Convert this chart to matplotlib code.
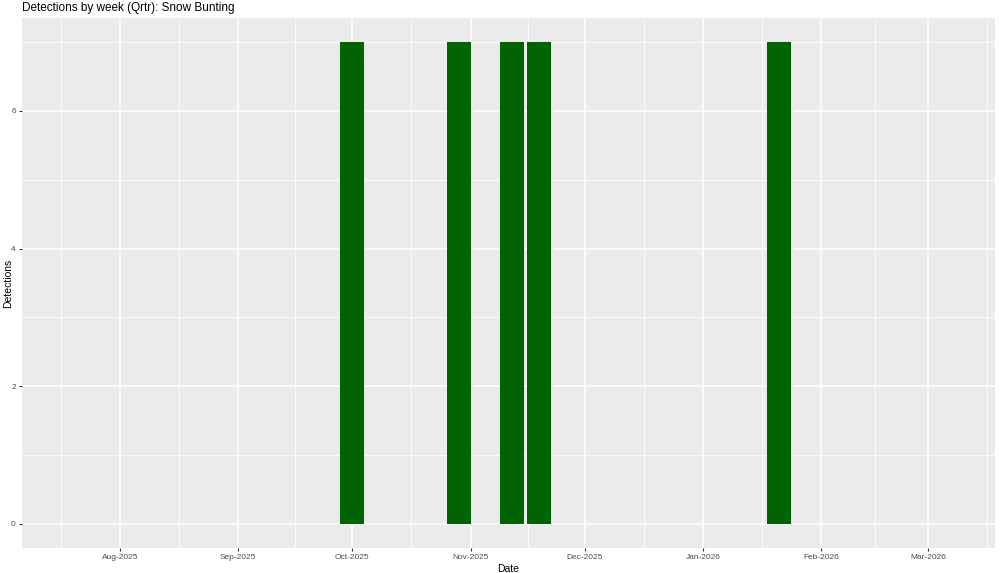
import datetime as dt
import matplotlib
matplotlib.use("Agg")
import matplotlib.pyplot as plt

plt.rcParams["font.family"] = ["Liberation Sans", "DejaVu Sans"]

# weekly detections (week start dates)
week_dates = ["2025-10-01", "2025-10-29", "2025-11-12", "2025-11-19", "2026-01-21"]
detections = [7, 7, 7, 7, 7]
tick_dates = ["2025-08-01", "2025-09-01", "2025-10-01", "2025-11-01",
              "2025-12-01", "2026-01-01", "2026-02-01", "2026-03-01"]
tick_labels = ["Aug-2025", "Sep-2025", "Oct-2025", "Nov-2025",
               "Dec-2025", "Jan-2026", "Feb-2026", "Mar-2026"]

dates = [dt.datetime.strptime(d, "%Y-%m-%d") for d in week_dates]
ticks = [dt.datetime.strptime(d, "%Y-%m-%d") for d in tick_dates]

fig = plt.figure(figsize=(10, 5.73), dpi=100)
ax = fig.add_axes([0.022, 25 / 573, 0.973, 530 / 573])
ax.set_facecolor("#EBEBEB")

ax.bar(dates, detections, width=7 * 0.9, color="#006400", zorder=3)

ax.set_xlim(dt.datetime(2025, 7, 6, 8), dt.datetime(2026, 3, 18, 14))
ax.set_ylim(-0.35, 7.35)

ax.set_xticks(ticks)
ax.set_xticklabels(tick_labels)
minor_x = [a + (b - a) / 2 for a, b in zip(ticks[:-1], ticks[1:])]
minor_x = [ticks[0] - (ticks[1] - ticks[0]) / 2] + minor_x + [ticks[-1] + (ticks[1] - ticks[0]) / 2]
ax.set_xticks(minor_x, minor=True)
ax.set_yticks([0, 2, 4, 6])
ax.set_yticks([1, 3, 5, 7], minor=True)

ax.grid(which="major", color="white", linewidth=1.1, zorder=0)
ax.grid(which="minor", color="white", linewidth=0.55, zorder=0)
ax.set_axisbelow(True)

ax.tick_params(which="major", length=2.5, width=0.8, color="#333333",
               labelsize=6, labelcolor="#4D4D4D", pad=2)
ax.tick_params(which="minor", length=0)
for s in ax.spines.values():
    s.set_visible(False)

ax.set_xlabel("Date", fontsize=7.5, labelpad=2)
ax.set_ylabel("Detections", fontsize=7.5, va="center")
ax.yaxis.set_label_coords(-0.0145, 0.5)
ax.set_title("Detections by week (Qrtr): Snow Bunting", fontsize=8.5,
             loc="left", pad=5)

fig.savefig("out.png", dpi=100)
